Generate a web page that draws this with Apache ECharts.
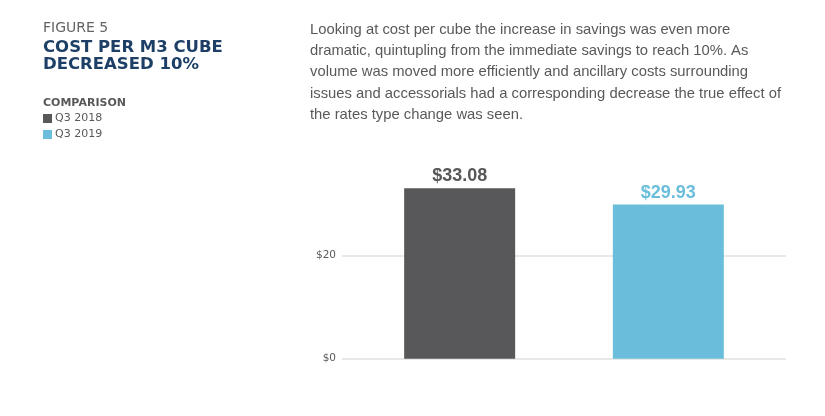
<!DOCTYPE html>
<html>
<head>
<meta charset="utf-8">
<script src="https://cdn.jsdelivr.net/npm/echarts@6/dist/echarts.min.js"></script>
</head>
<body style="margin: 0; background: #fff">
<div id="chart" style="width: 825px; height: 416px"></div>
<script type="text/javascript">
var periods = ['Q3 2018', 'Q3 2019'];
var costPerCube = [33.08, 29.93];
var barColors = ['#58585a', '#6bbedb'];
var yTicks = [0, 20];
var paragraph = [
    'Looking at cost per cube the increase in savings was even more',
    'dramatic, quintupling from the immediate savings to reach 10%. As',
    'volume was moved more efficiently and ancillary costs surrounding',
    'issues and accessorials had a corresponding decrease the true effect of',
    'the rates type change was seen.'
];

var font = '"Liberation Sans", Arial, Helvetica, sans-serif';
var wide = '"DejaVu Sans", sans-serif';
var myChart = echarts.init(document.getElementById('chart'));

var textEls = [
    { type: 'text', left: 43, top: 21.5, style: { text: 'FIGURE 5', font: '14px ' + wide, fill: '#636466' } },
    { type: 'text', left: 43, top: 39.5, style: { text: 'COST PER M3 CUBE', font: 'bold 16.5px ' + wide, fill: '#1d3f66' } },
    { type: 'text', left: 43, top: 56.5, style: { text: 'DECREASED 10%', font: 'bold 16.5px ' + wide, fill: '#1d3f66' } },
    { type: 'text', left: 43, top: 97.5, style: { text: 'COMPARISON', font: 'bold 11px ' + wide, fill: '#58595b' } }
];
paragraph.forEach(function (line, i) {
    textEls.push({
        type: 'text', left: 310, top: 22 + i * 21.4,
        style: { text: line, font: '14.8px ' + font, fill: '#58595b' }
    });
});

var option = {
    animation: false,
    textStyle: { fontFamily: font },
    graphic: textEls,
    legend: {
        orient: 'vertical',
        left: 43,
        top: 113,
        padding: 0,
        itemWidth: 9,
        itemHeight: 9,
        itemGap: 5,
        icon: 'rect',
        data: periods,
        textStyle: { fontSize: 11, fontFamily: wide, color: '#58595b', padding: [0, 0, 0, -2] }
    },
    grid: { left: 342, right: 39, top: 152.7, bottom: 57.3 },
    xAxis: {
        type: 'category',
        data: [''],
        axisLine: { show: false },
        axisTick: { show: false },
        axisLabel: { show: false }
    },
    yAxis: {
        type: 'value',
        min: 0,
        max: 40,
        interval: 20,
        axisLine: { show: false },
        axisTick: { show: false },
        axisLabel: {
            margin: 6,
            fontSize: 10.5,
            fontFamily: wide,
            color: '#58595b',
            formatter: function (v) { return yTicks.indexOf(v) >= 0 ? '$' + v : ''; }
        },
        splitLine: { show: true, showMaxLine: false, lineStyle: { color: '#e8e8e8', width: 2 } }
    },
    series: periods.map(function (p, i) {
        return {
            name: p,
            type: 'bar',
            data: [costPerCube[i]],
            barWidth: 111,
            barGap: '88%',
            itemStyle: { color: barColors[i] },
            label: {
                show: true,
                position: 'top',
                distance: 3,
                fontSize: 18,
                fontWeight: 'bold',
                color: barColors[i],
                formatter: function (d) { return '$' + d.value.toFixed(2); }
            }
        };
    })
};
myChart.setOption(option);
</script>
</body>
</html>
